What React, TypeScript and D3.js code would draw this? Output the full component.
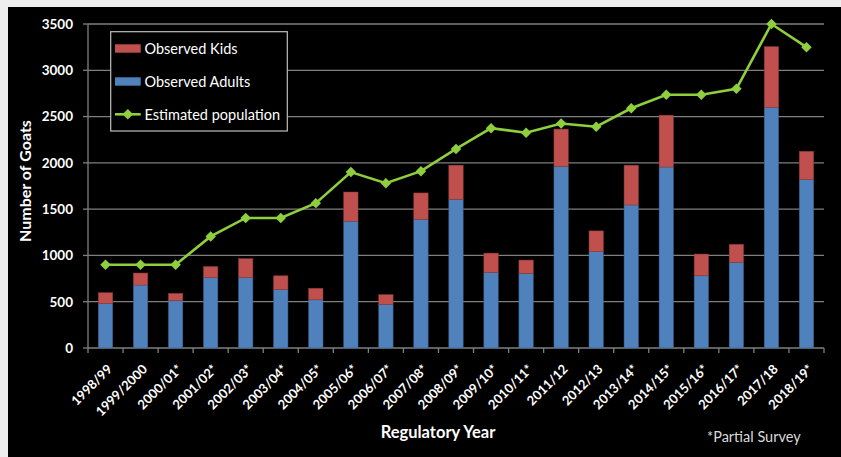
import React from "react";
import * as d3 from "d3";

const years = ["1998/99","1999/2000","2000/01*","2001/02*","2002/03*","2003/04*","2004/05*","2005/06*","2006/07*","2007/08*","2008/09*","2009/10*","2010/11*","2011/12","2012/13","2013/14*","2014/15*","2015/16*","2016/17*","2017/18","2018/19*"];
const adults = [480,680,510,760,760,630,520,1370,472,1390,1605,815,805,1960,1040,1545,1955,780,925,2600,1820];
const totals = [597,810,590,880,965,780,645,1685,576,1675,1975,1025,950,2365,1265,1975,2515,1015,1120,3255,2125];
const kids = totals.map((t, i) => t - adults[i]);
const estimated = [900,900,900,1205,1405,1405,1565,1900,1780,1910,2150,2375,2325,2425,2390,2590,2735,2735,2800,3500,3250];
const yTicks = [0,500,1000,1500,2000,2500,3000,3500];

const W = 841, H = 457;
const M = { left: 88, right: 824, top: 24, bottom: 348 };
const RED = "#C0504D", BLUE = "#4F81BD", GREEN = "#8FCF3E";
const FONT = "Lato, 'Open Sans', sans-serif";

export default function App() {
  const x = d3.scaleBand<string>().domain(years).range([M.left, M.right]).paddingInner(0.59).paddingOuter(0.295);
  const xb = d3.scaleBand<string>().domain(years).range([M.left, M.right]);
  const y = d3.scaleLinear().domain([0, 3500]).range([M.bottom, M.top]);
  const line = d3.line<number>().x((_, i) => (xb(years[i]) as number) + xb.bandwidth() / 2).y(d => y(d));
  const diamond = d3.symbol().type(d3.symbolDiamond2).size(70)();

  return (
    <svg width={W} height={H} style={{ position: "absolute", left: 0, top: 0 }} fontFamily={FONT}>
      <rect x={0} y={0} width={W} height={H} fill="#eeeeee" />
      <rect x={8} y={7} width={W - 8} height={H - 7} fill="#000" />
      {yTicks.map(t => (
        <g key={t}>
          {t > 0 && <line x1={M.left} x2={M.right} y1={y(t)} y2={y(t)} stroke="#7f7f7f" strokeWidth={1.3} />}
          <line x1={M.left - 5} x2={M.left} y1={y(t)} y2={y(t)} stroke="#7f7f7f" strokeWidth={1.3} />
          <text x={73} y={y(t)} dy="0.36em" textAnchor="end" fill="#fff" fontWeight="bold" fontSize={13.5}>{t}</text>
        </g>
      ))}
      <line x1={M.left} x2={M.left} y1={M.top} y2={M.bottom} stroke="#7f7f7f" strokeWidth={1.3} />
      <line x1={M.left} x2={M.right} y1={M.bottom} y2={M.bottom} stroke="#7f7f7f" strokeWidth={1.3} />
      {years.concat(["end"]).map((yr, i) => {
        const px = M.left + i * xb.step();
        return <line key={"t" + i} x1={px} x2={px} y1={M.bottom} y2={M.bottom + 5} stroke="#7f7f7f" strokeWidth={1.3} />;
      })}
      {years.map((yr, i) => (
        <g key={yr}>
          <rect x={x(yr)} y={y(adults[i])} width={x.bandwidth()} height={y(0) - y(adults[i])} fill={BLUE} stroke="#3a5f8a" strokeWidth={0.5} />
          <rect x={x(yr)} y={y(totals[i])} width={x.bandwidth()} height={y(adults[i]) - y(totals[i])} fill={RED} stroke="#8c3a38" strokeWidth={0.5} />
        </g>
      ))}
      <path d={line(estimated) || ""} fill="none" stroke={GREEN} strokeWidth={2.6} />
      {estimated.map((v, i) => (
        <path key={"m" + i} d={diamond || ""} transform={`translate(${(xb(years[i]) as number) + xb.bandwidth() / 2},${y(v)})`} fill={GREEN} />
      ))}
      {years.map((yr, i) => {
        const cx = (xb(yr) as number) + xb.bandwidth() / 2;
        return (
          <text key={"l" + yr} transform={`translate(${cx + 7.5},${370}) rotate(-45)`} textAnchor="end" fill="#fff" fontWeight="bold" fontSize={13}>{yr}</text>
        );
      })}
      <text transform={`translate(30.5,181) rotate(-90)`} textAnchor="middle" fill="#fff" fontWeight="bold" fontSize={16}>Number of Goats</text>
      <text x={438} y={438} textAnchor="middle" fill="#fff" fontWeight="bold" fontSize={16.5}>Regulatory Year</text>
      <text x={707} y={442} fill="#d9d9d9" fontSize={14.5}>*Partial Survey</text>
      <g>
        <rect x={110.7} y={31.7} width={176.6} height={99.3} fill="#000" stroke="#bfbfbf" strokeWidth={1.2} />
        <rect x={115} y={44.3} width={25.7} height={8.4} fill={RED} />
        <text x={144.5} y={48.5} dy="0.36em" fill="#fff" fontSize={14.5}>Observed Kids</text>
        <rect x={115} y={77.3} width={25.7} height={8.4} fill={BLUE} />
        <text x={144.5} y={81.5} dy="0.36em" fill="#fff" fontSize={14.5}>Observed Adults</text>
        <line x1={115} x2={140.7} y1={114.3} y2={114.3} stroke={GREEN} strokeWidth={2.6} />
        <path d={diamond || ""} transform="translate(127.8,114.3)" fill={GREEN} />
        <text x={144.5} y={114.5} dy="0.36em" fill="#fff" fontSize={14.5}>Estimated population</text>
      </g>
    </svg>
  );
}
